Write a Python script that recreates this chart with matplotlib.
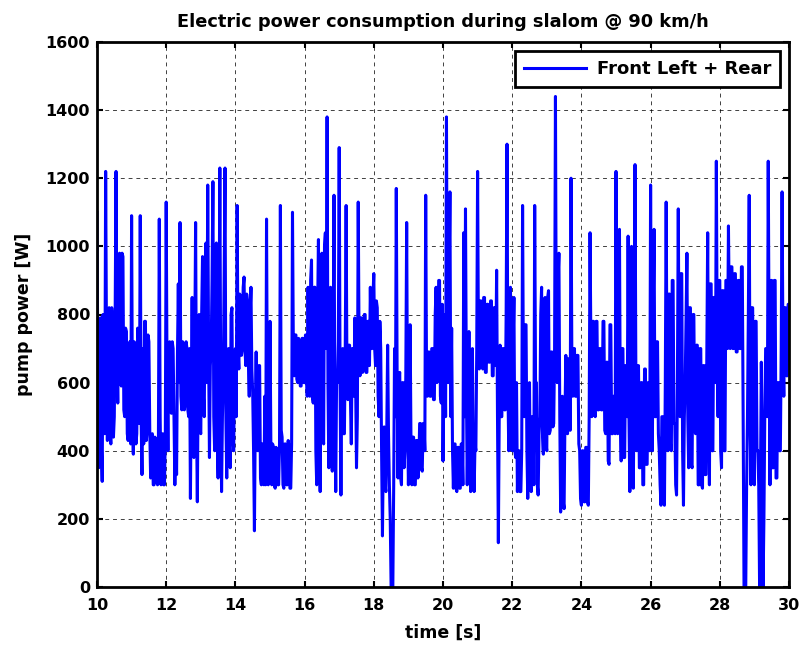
import numpy as np
import matplotlib
matplotlib.use("Agg")
import matplotlib.pyplot as plt

plt.rcParams['font.family'] = ['DejaVu Sans']
plt.rcParams['font.weight'] = 'bold'

# pump power in W, one list per second (10 s .. 29 s), 40 samples each
p_10 = [1100, 600, 350, 560, 790, 420, 310, 800, 700, 450, 1220, 700, 430, 760, 820, 480, 420, 820, 780, 440,
        500, 800, 1220, 700, 540, 900, 980, 620, 590, 980, 970, 520, 500, 760, 750, 450, 430, 700, 720, 420]
p_11 = [1090, 500, 390, 720, 700, 420, 450, 760, 730, 480, 1090, 500, 330, 700, 420, 780, 780, 430, 460, 740,
        720, 460, 320, 440, 450, 300, 300, 440, 420, 310, 300, 430, 1080, 500, 300, 440, 450, 300, 300, 450]
p_12 = [1130, 600, 400, 700, 720, 520, 510, 720, 700, 500, 300, 450, 330, 680, 890, 600, 1070, 560, 520, 720,
        710, 520, 540, 720, 700, 520, 500, 700, 260, 600, 850, 520, 380, 700, 1070, 500, 250, 620, 800, 460]
p_13 = [450, 800, 970, 560, 500, 900, 1010, 600, 1180, 700, 380, 650, 700, 900, 1190, 500, 400, 780, 1010, 450,
        320, 700, 1230, 600, 280, 500, 600, 900, 1230, 500, 320, 650, 700, 420, 350, 800, 820, 450, 400, 650]
p_14 = [700, 500, 1120, 700, 640, 860, 850, 680, 700, 880, 910, 700, 650, 860, 840, 660, 560, 800, 880, 640,
        570, 400, 165, 500, 690, 420, 400, 650, 650, 320, 300, 420, 420, 300, 560, 300, 1080, 500, 300, 420]
p_15 = [780, 420, 300, 420, 410, 300, 290, 410, 400, 300, 300, 420, 1120, 460, 440, 300, 290, 420, 420, 300,
        300, 430, 410, 290, 290, 420, 1100, 700, 620, 740, 740, 610, 600, 730, 720, 590, 590, 730, 730, 600]
p_16 = [600, 740, 700, 560, 880, 600, 560, 900, 960, 560, 540, 880, 880, 400, 300, 800, 1020, 500, 280, 900,
        980, 450, 420, 1000, 1040, 700, 1380, 600, 350, 800, 880, 400, 340, 700, 1150, 500, 280, 620, 600, 720]
p_17 = [1290, 600, 270, 600, 700, 450, 450, 700, 1120, 600, 550, 710, 710, 550, 420, 700, 700, 560, 790, 600,
        350, 500, 1130, 700, 620, 790, 790, 630, 640, 800, 800, 630, 630, 780, 780, 650, 880, 700, 700, 850]
p_18 = [920, 700, 650, 840, 820, 560, 500, 780, 700, 400, 150, 400, 470, 300, 280, 460, 710, 450, 300, 200,
        0, 0, 0, 300, 700, 500, 1170, 600, 320, 620, 630, 320, 300, 600, 600, 350, 400, 620, 1070, 500]
p_19 = [300, 440, 770, 420, 300, 440, 440, 300, 300, 430, 430, 320, 350, 480, 480, 350, 340, 480, 480, 400,
        1150, 600, 560, 690, 690, 560, 560, 700, 700, 550, 550, 800, 880, 600, 660, 900, 900, 560, 540, 830]
p_20 = [370, 600, 800, 500, 1380, 700, 600, 900, 1160, 500, 760, 400, 290, 420, 420, 290, 280, 410, 410, 290,
        290, 420, 420, 300, 1040, 500, 1110, 600, 300, 500, 750, 400, 280, 520, 700, 400, 280, 420, 400, 700]
p_21 = [1220, 700, 640, 840, 840, 650, 640, 850, 850, 630, 630, 830, 830, 660, 660, 840, 840, 620, 620, 820,
        820, 650, 930, 500, 130, 500, 710, 500, 500, 700, 700, 520, 520, 800, 1300, 600, 400, 750, 880, 450]
p_22 = [400, 700, 850, 400, 380, 600, 280, 400, 400, 280, 280, 400, 1120, 600, 500, 770, 770, 400, 260, 500,
        600, 300, 280, 500, 500, 300, 1120, 600, 600, 300, 270, 450, 500, 800, 880, 450, 390, 800, 850, 420]
p_23 = [400, 850, 870, 450, 460, 690, 690, 470, 480, 700, 1440, 700, 600, 900, 980, 500, 220, 450, 560, 250,
        230, 500, 680, 460, 450, 670, 670, 460, 1200, 650, 560, 700, 700, 560, 560, 680, 680, 420, 400, 260]
p_24 = [240, 400, 400, 250, 250, 410, 410, 250, 240, 500, 1040, 700, 500, 780, 780, 520, 500, 780, 780, 520,
        520, 700, 700, 520, 520, 780, 780, 460, 450, 660, 660, 370, 360, 770, 770, 450, 450, 560, 560, 450]
p_25 = [1220, 600, 450, 800, 1050, 500, 370, 700, 700, 380, 380, 650, 650, 500, 1030, 500, 280, 600, 1000, 500,
        290, 600, 1240, 600, 400, 650, 650, 350, 350, 600, 600, 300, 300, 640, 640, 360, 360, 600, 600, 400]
p_26 = [1180, 600, 400, 800, 1050, 500, 500, 720, 720, 450, 400, 300, 240, 500, 500, 250, 240, 600, 1130, 600,
        400, 860, 860, 420, 400, 900, 900, 480, 480, 300, 270, 600, 1110, 600, 500, 920, 920, 400, 240, 500]
p_27 = [600, 800, 980, 500, 350, 820, 820, 360, 350, 800, 800, 460, 450, 710, 710, 300, 300, 700, 700, 300,
        290, 650, 650, 330, 330, 700, 1040, 500, 300, 890, 890, 400, 400, 850, 850, 600, 1250, 700, 500, 900]
p_28 = [900, 400, 350, 870, 870, 400, 400, 900, 900, 700, 1060, 800, 700, 940, 940, 700, 700, 920, 920, 690,
        690, 900, 900, 700, 700, 940, 940, 500, 0, 0, 0, 300, 500, 800, 1150, 500, 300, 820, 820, 400]
p_29 = [300, 780, 780, 400, 400, 300, 0, 300, 660, 400, 0, 200, 500, 700, 700, 500, 1250, 700, 300, 900,
        900, 350, 350, 900, 900, 320, 320, 600, 600, 400, 400, 700, 1160, 700, 560, 820, 820, 620, 620, 830]
p_end = 830  # value at t = 30 s

seconds = [p_10, p_11, p_12, p_13, p_14, p_15, p_16, p_17, p_18, p_19,
           p_20, p_21, p_22, p_23, p_24, p_25, p_26, p_27, p_28, p_29]

time, power = [], []
for i, vals in enumerate(seconds):
    time.extend(np.linspace(10 + i, 11 + i, len(vals), endpoint=False))
    power.extend(vals)
time.append(30.0)
power.append(p_end)

fig = plt.figure(figsize=(8.02, 6.45), dpi=100)
ax = fig.add_axes([97 / 802, 1 - 587 / 645, 692 / 802, 545 / 645])

ax.plot(time, power, color="#0000ff", linewidth=2.2, label="Front Left + Rear")

ax.set_xlim(10, 30)
ax.set_ylim(0, 1600)
ax.set_xticks(np.arange(10, 31, 2))
ax.set_yticks(np.arange(0, 1601, 200))
ax.grid(True, color="black", linestyle=(0, (4, 4)), linewidth=0.7, alpha=0.75)
ax.tick_params(direction="in", length=4, width=1.5, top=True, right=True, labelsize=11.5)
ax.tick_params(axis="x", pad=8)
ax.tick_params(axis="y", pad=5)
for s in ax.spines.values():
    s.set_linewidth(2)

ax.set_title("Electric power consumption during slalom @ 90 km/h", fontsize=12.8, fontweight="bold", pad=11)
ax.set_xlabel("time [s]", fontsize=12.5, fontweight="bold", labelpad=8)
ax.set_ylabel("pump power [W]", fontsize=12.5, fontweight="bold", labelpad=9)

leg = ax.legend(loc="upper right", fontsize=13, fancybox=False, framealpha=1,
                edgecolor="black", borderaxespad=0.5, handlelength=3.4,
                borderpad=0.5, handletextpad=0.6)
leg.get_frame().set_linewidth(2)

fig.savefig("out.png", dpi=100)
